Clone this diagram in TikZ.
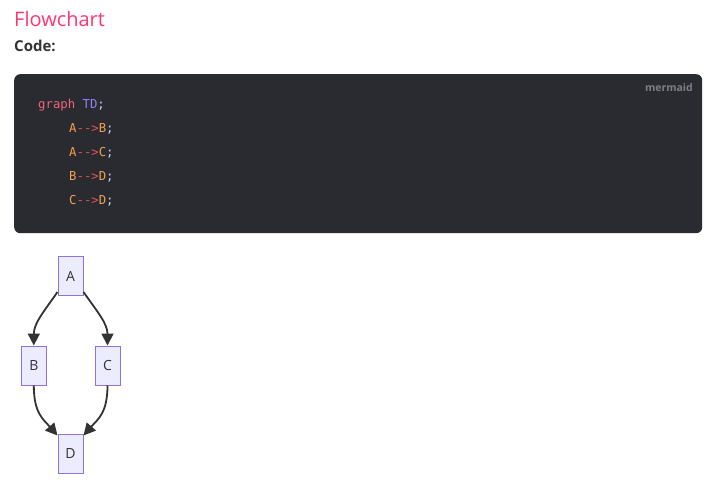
\documentclass[tikz,border=0pt]{standalone}
\usepackage{fontspec}
\setmainfont{Open Sans}
\setmonofont{DejaVu Sans Mono}
\usetikzlibrary{arrows.meta}
\definecolor{titlec}{HTML}{FF3670}
\definecolor{codebg}{HTML}{2A2B30}
\definecolor{kwc}{HTML}{F0647D}
\definecolor{tdc}{HTML}{8C83F5}
\definecolor{idc}{HTML}{F3A050}
\definecolor{arrc}{HTML}{E8505E}
\definecolor{semic}{HTML}{C8D4F0}
\definecolor{mmc}{HTML}{7C7F88}
\definecolor{nodefill}{HTML}{ECECFF}
\definecolor{nodeborder}{HTML}{9370DB}
\definecolor{edgec}{HTML}{333333}
\tikzset{
  fcnode/.style={draw=nodeborder, fill=nodefill, line width=1pt, minimum width=25pt, minimum height=39pt, inner sep=0pt, font=\fontsize{14}{16}\selectfont, text=edgec},
  fcedge/.style={draw=edgec, line width=1.8pt, -{Triangle[length=12pt,width=12pt]}},
  codeline/.style={anchor=west, inner sep=0pt, font=\ttfamily\fontsize{12.3}{14}\selectfont},
}
\newcommand{\cl}[2]{\textcolor{idc}{#1}\textcolor{arrc}{-{}->}\textcolor{idc}{#2}\textcolor{semic}{;}}
\begin{document}
\begin{tikzpicture}[x=1pt,y=-1pt]
\useasboundingbox (0,0) rectangle (709,489);
\node[anchor=west, inner sep=0pt, text=titlec, font=\fontsize{20}{22}\selectfont] (title) at (14,19) {Flowchart};
\node[anchor=west, inner sep=0pt, text=edgec, font=\bfseries\fontsize{15}{18}\selectfont] (code) at (14,46) {Code:};
\node[fill=codebg, rounded corners=6pt, minimum width=688pt, minimum height=159pt, inner sep=0pt, anchor=north west] (box) at (14,74) {};
\node[anchor=east, inner sep=0pt, text=mmc, font=\bfseries\fontsize{10.5}{12}\selectfont] (mm) at (693,88) {mermaid};
\node[codeline] (l0) at (38,105) {\textcolor{kwc}{graph} \textcolor{tdc}{TD}\textcolor{semic}{;}};
\node[codeline] (l1) at (69,129) {\cl{A}{B}};
\node[codeline] (l2) at (69,153) {\cl{A}{C}};
\node[codeline] (l3) at (69,177) {\cl{B}{D}};
\node[codeline] (l4) at (69,201) {\cl{C}{D}};
\node[fcnode] (A) at (70.5,276) {A};
\node[fcnode] (B) at (33.8,365.5) {B};
\node[fcnode] (C) at (107.5,365.5) {C};
\node[fcnode] (D) at (70.5,453.5) {D};
\draw[fcedge] ([yshift=4pt]A.south west) .. controls +(-14,20) and +(0,-22) .. (B.north);
\draw[fcedge] ([yshift=4pt]A.south east) .. controls +(14,20) and +(0,-22) .. (C.north);
\draw[fcedge] (B.south) .. controls +(0,28) and +(-14,-16) .. ([yshift=-2pt]D.north west);
\draw[fcedge] (C.south) .. controls +(0,28) and +(14,-16) .. ([yshift=-2pt]D.north east);
\end{tikzpicture}
\end{document}
